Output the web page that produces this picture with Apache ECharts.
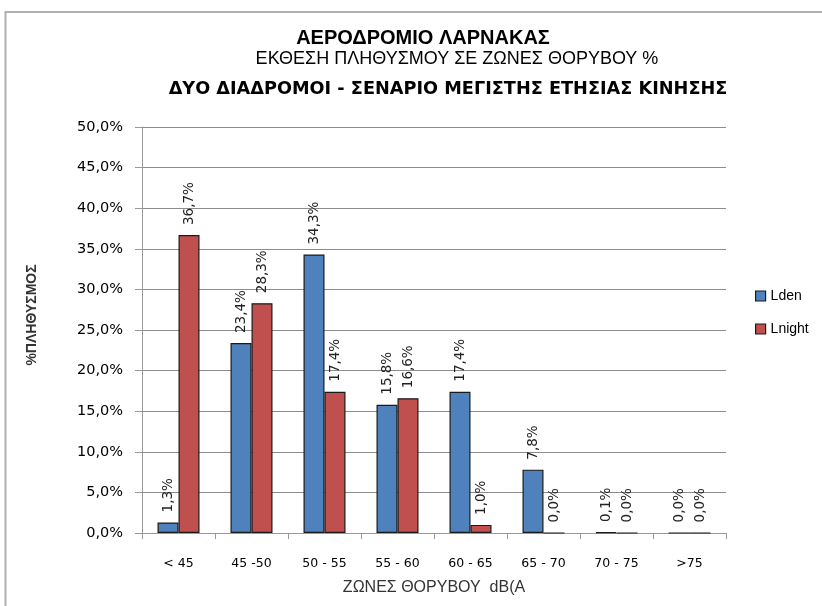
<!DOCTYPE html>
<html><head><meta charset="utf-8">
<script src="https://cdn.jsdelivr.net/npm/echarts@6/dist/echarts.min.js"></script>
<style>html,body{margin:0;padding:0;background:#fff}#c{width:822px;height:606px}</style>
</head><body><div id="c"></div>
<script>
const categories = ['< 45', '45 -50', '50 - 55', '55 - 60', '60 - 65', '65 - 70', '70 - 75', '>75'];
const lden = [1.3, 23.4, 34.3, 15.8, 17.4, 7.8, 0.1, 0.0];
const lnight = [36.7, 28.3, 17.4, 16.6, 1.0, 0.0, 0.0, 0.0];
const seriesNames = ['Lden', 'Lnight'];
const titleLines = ['ΑΕΡΟΔΡΟΜΙΟ ΛΑΡΝΑΚΑΣ', 'ΕΚΘΕΣΗ ΠΛΗΘΥΣΜΟΥ ΣΕ ΖΩΝΕΣ ΘΟΡΥΒΟΥ %', 'ΔΥΟ ΔΙΑΔΡΟΜΟΙ - ΣΕΝΑΡΙΟ ΜΕΓΙΣΤΗΣ ΕΤΗΣΙΑΣ ΚΙΝΗΣΗΣ'];
const xName = 'ΖΩΝΕΣ ΘΟΡΥΒΟΥ  dB(A';
const yName = '%ΠΛΗΘΥΣΜΟΣ';

const fmt = v => v.toFixed(1).replace('.', ',') + '%';
const chart = echarts.init(document.getElementById('c'), null, {renderer: 'canvas'});
const labelOpt = {
  show: true, position: 'top', rotate: 90, align: 'left', verticalAlign: 'middle',
  distance: 10, fontFamily: 'DejaVu Sans', fontSize: 13.5, color: '#222',
  formatter: p => fmt(p.value)
};
chart.setOption({
  animation: false,
  graphic: [
    {type: 'rect', silent: true, shape: {x: 5.5, y: 12, width: 900, height: 700}, style: {fill: 'none', stroke: '#b0b0b0', lineWidth: 2}},
    {type: 'text', x: 32, y: 315, rotation: Math.PI / 2,
     style: {text: yName, align: 'center', verticalAlign: 'middle', fontFamily: 'Liberation Sans', fontSize: 14, fontWeight: 'bold', fill: '#333'}}
  ],
  title: [
    {text: titleLines[0], left: 418, top: 23, textAlign: 'center', textStyle: {fontFamily: 'Liberation Sans', fontSize: 20, fontWeight: 'bold', color: '#000'}},
    {text: titleLines[1], left: 452, top: 45, textAlign: 'center', textStyle: {fontFamily: 'Liberation Sans', fontSize: 18, fontWeight: 'normal', color: '#000'}},
    {text: titleLines[2], left: 443, top: 75, textAlign: 'center', textStyle: {fontFamily: 'DejaVu Sans', fontSize: 17.7, fontWeight: 'bold', color: '#000'}}
  ],
  legend: {
    orient: 'vertical', left: 750, top: 284, itemGap: 19, itemWidth: 10, itemHeight: 10,
    icon: 'rect', data: seriesNames, itemStyle: {borderColor: '#1a1a1a', borderWidth: 1.2},
    textStyle: {fontFamily: 'Liberation Sans', fontSize: 14, color: '#000'}
  },
  grid: {left: 142, right: 96, top: 127, bottom: 73},
  xAxis: {
    type: 'category', data: categories,
    name: xName, nameLocation: 'middle', nameGap: 47,
    nameTextStyle: {fontFamily: 'Liberation Sans', fontSize: 16, color: '#333'},
    axisLine: {lineStyle: {color: '#999'}},
    axisTick: {show: true, alignWithLabel: false, length: 6, lineStyle: {color: '#999'}},
    axisLabel: {fontFamily: 'DejaVu Sans', fontSize: 12.5, color: '#000', margin: 24}
  },
  yAxis: {
    type: 'value', min: 0, max: 50, interval: 5,
    axisLine: {show: true, lineStyle: {color: '#999'}},
    axisTick: {show: true, length: 7, lineStyle: {color: '#999'}},
    splitLine: {lineStyle: {color: '#8c8c8c'}},
    axisLabel: {fontFamily: 'DejaVu Sans', fontSize: 14.5, color: '#000', margin: 19, formatter: v => fmt(v)}
  },
  series: [
    {name: seriesNames[0], type: 'bar', data: lden, barWidth: 21, barGap: '0%',
     itemStyle: {color: '#4F81BD', borderColor: '#1a1a1a', borderWidth: 1.2}, label: labelOpt},
    {name: seriesNames[1], type: 'bar', data: lnight, barWidth: 21, barGap: '0%',
     itemStyle: {color: '#C0504D', borderColor: '#1a1a1a', borderWidth: 1.2}, label: labelOpt}
  ]
});
</script></body></html>
